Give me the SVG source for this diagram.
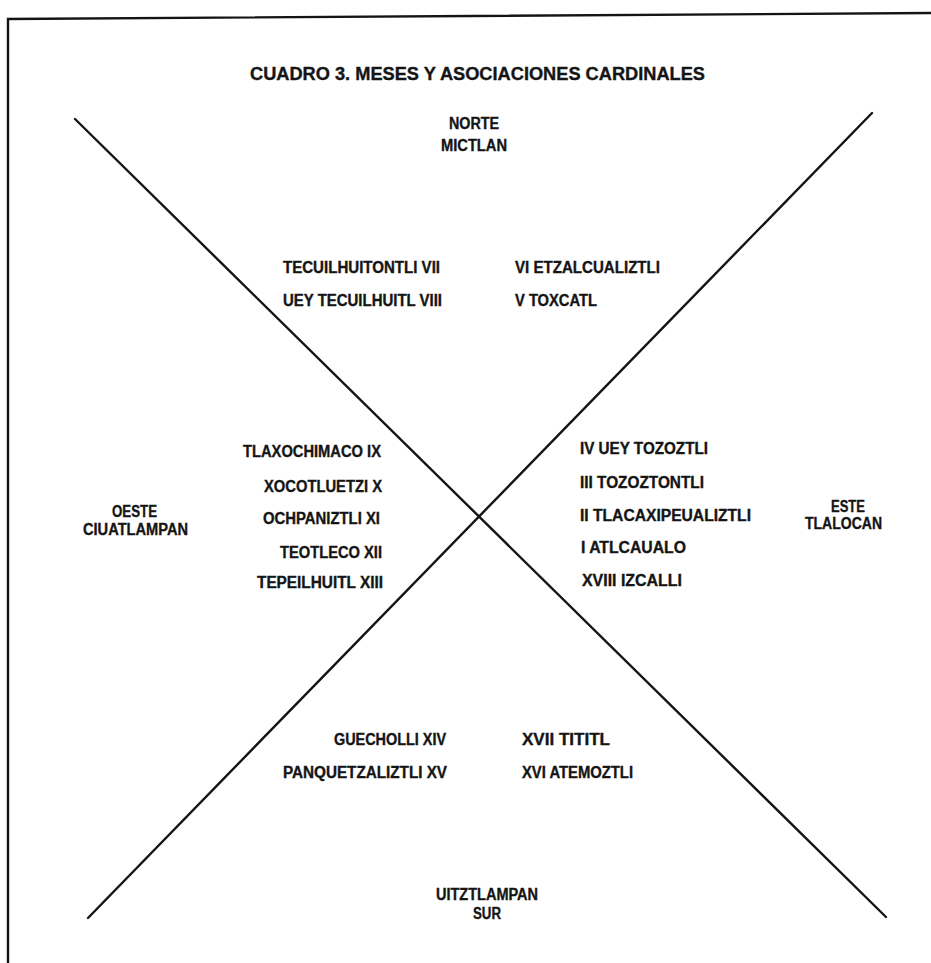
<svg xmlns="http://www.w3.org/2000/svg" width="931" height="963" viewBox="0 0 931 963">
<style>
.t{font-family:"Liberation Sans Narrow","Liberation Sans",Arial,sans-serif;font-weight:bold;font-size:16px;fill:#151515;stroke:#151515;stroke-width:0.35}
.h{font-size:18px}
.ln{stroke:#141414;stroke-width:2.4;fill:none;stroke-linecap:round}
</style>
<rect width="931" height="963" fill="#ffffff"/>
<path class="ln" d="M8,963 L8,19 L931,13" stroke-width="2.6"/>
<g id="title"><text class="t h" x="250" y="80" textLength="455" lengthAdjust="spacingAndGlyphs">CUADRO 3. MESES Y ASOCIACIONES CARDINALES</text></g>
<g id="connectors">
<line class="ln" x1="75" y1="119" x2="886" y2="917"/>
<line class="ln" x1="872" y1="113" x2="88" y2="918"/>
</g>
<g id="norte">
<text class="t" x="449" y="129" textLength="50" lengthAdjust="spacingAndGlyphs">NORTE</text>
<text class="t" x="441" y="151" textLength="66" lengthAdjust="spacingAndGlyphs">MICTLAN</text>
</g>
<g id="oeste">
<text class="t" x="112" y="517" textLength="45" lengthAdjust="spacingAndGlyphs">OESTE</text>
<text class="t" x="83" y="535" textLength="105" lengthAdjust="spacingAndGlyphs">CIUATLAMPAN</text>
</g>
<g id="este">
<text class="t" x="831" y="512" textLength="34" lengthAdjust="spacingAndGlyphs">ESTE</text>
<text class="t" x="805" y="529" textLength="77" lengthAdjust="spacingAndGlyphs">TLALOCAN</text>
</g>
<g id="sur">
<text class="t" x="436" y="900" textLength="102" lengthAdjust="spacingAndGlyphs">UITZTLAMPAN</text>
<text class="t" x="473" y="919" textLength="28" lengthAdjust="spacingAndGlyphs">SUR</text>
</g>
<g id="meses-norte">
<text class="t" x="283" y="273" textLength="157" lengthAdjust="spacingAndGlyphs">TECUILHUITONTLI VII</text>
<text class="t" x="283" y="306" textLength="159" lengthAdjust="spacingAndGlyphs">UEY TECUILHUITL VIII</text>
<text class="t" x="515" y="273" textLength="145" lengthAdjust="spacingAndGlyphs">VI ETZALCUALIZTLI</text>
<text class="t" x="515" y="306" textLength="82" lengthAdjust="spacingAndGlyphs">V TOXCATL</text>
</g>
<g id="meses-oeste">
<text class="t" x="243" y="457" textLength="138" lengthAdjust="spacingAndGlyphs">TLAXOCHIMACO IX</text>
<text class="t" x="264" y="492" textLength="118" lengthAdjust="spacingAndGlyphs">XOCOTLUETZI X</text>
<text class="t" x="263" y="524" textLength="117" lengthAdjust="spacingAndGlyphs">OCHPANIZTLI XI</text>
<text class="t" x="280" y="558" textLength="102" lengthAdjust="spacingAndGlyphs">TEOTLECO XII</text>
<text class="t" x="257" y="588" textLength="126" lengthAdjust="spacingAndGlyphs">TEPEILHUITL XIII</text>
</g>
<g id="meses-este">
<text class="t" x="580" y="454" textLength="128" lengthAdjust="spacingAndGlyphs">IV UEY TOZOZTLI</text>
<text class="t" x="580" y="488" textLength="124" lengthAdjust="spacingAndGlyphs">III TOZOZTONTLI</text>
<text class="t" x="580" y="521" textLength="171" lengthAdjust="spacingAndGlyphs">II TLACAXIPEUALIZTLI</text>
<text class="t" x="581" y="553" textLength="105" lengthAdjust="spacingAndGlyphs">I ATLCAUALO</text>
<text class="t" x="582" y="586" textLength="100" lengthAdjust="spacingAndGlyphs">XVIII IZCALLI</text>
</g>
<g id="meses-sur">
<text class="t" x="334" y="745" textLength="112" lengthAdjust="spacingAndGlyphs">GUECHOLLI XIV</text>
<text class="t" x="283" y="778" textLength="164" lengthAdjust="spacingAndGlyphs">PANQUETZALIZTLI XV</text>
<text class="t" x="522" y="745" textLength="88" lengthAdjust="spacingAndGlyphs">XVII TITITL</text>
<text class="t" x="522" y="778" textLength="111" lengthAdjust="spacingAndGlyphs">XVI ATEMOZTLI</text>
</g>
</svg>
